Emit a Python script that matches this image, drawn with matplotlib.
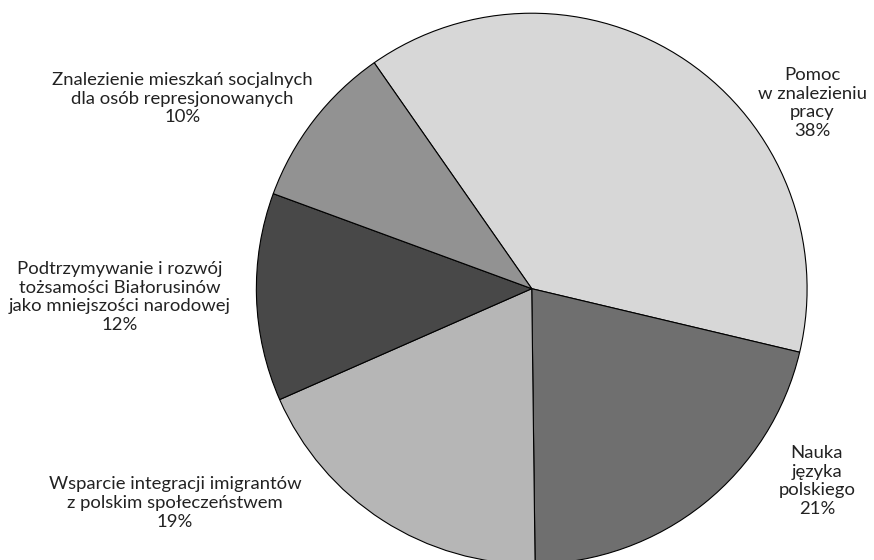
import matplotlib
matplotlib.use("Agg")
import matplotlib.pyplot as plt
import numpy as np

# slices, clockwise from the upper-left boundary
labels = ["Pomoc\nw znalezieniu\npracy",
          "Nauka\njęzyka\npolskiego",
          "Wsparcie integracji imigrantów\nz polskim społeczeństwem",
          "Podtrzymywanie i rozwój\ntożsamości Białorusinów\njako mniejszości narodowej",
          "Znalezienie mieszkań socjalnych\ndla osób represjonowanych"]
shares = [38.4, 21.1, 18.6, 12.2, 9.7]
pct_labels = ["38%", "21%", "19%", "12%", "10%"]
colors = ["#d7d7d7", "#6f6f6f", "#b6b6b6", "#484848", "#929292"]

# label placement (pie radius = 1, centre at 0,0)
label_pos = [(1.018, 0.674), (1.036, -0.698), (-1.295, -0.778),
             (-1.495, -0.030), (-1.269, 0.689)]

plt.rcParams['font.family'] = ['Lato', 'DejaVu Sans']

fig = plt.figure(figsize=(8.74, 5.6), dpi=100)
ax = fig.add_axes([0, 0, 1, 1])

ax.pie(shares, colors=colors, startangle=124.9, counterclock=False,
       radius=1.0, wedgeprops=dict(edgecolor="black", linewidth=0.8))

for lab, pct, (x, y) in zip(labels, pct_labels, label_pos):
    ax.text(x, y, lab + "\n" + pct, ha="center", va="center",
            fontsize=13.3, color="#222222", linespacing=1.2)

ax.set_aspect("auto")
ax.set_xlim(-1.931, 1.243)
ax.set_ylim(-0.985, 1.048)
ax.axis("off")

plt.savefig("out.png", dpi=100)
